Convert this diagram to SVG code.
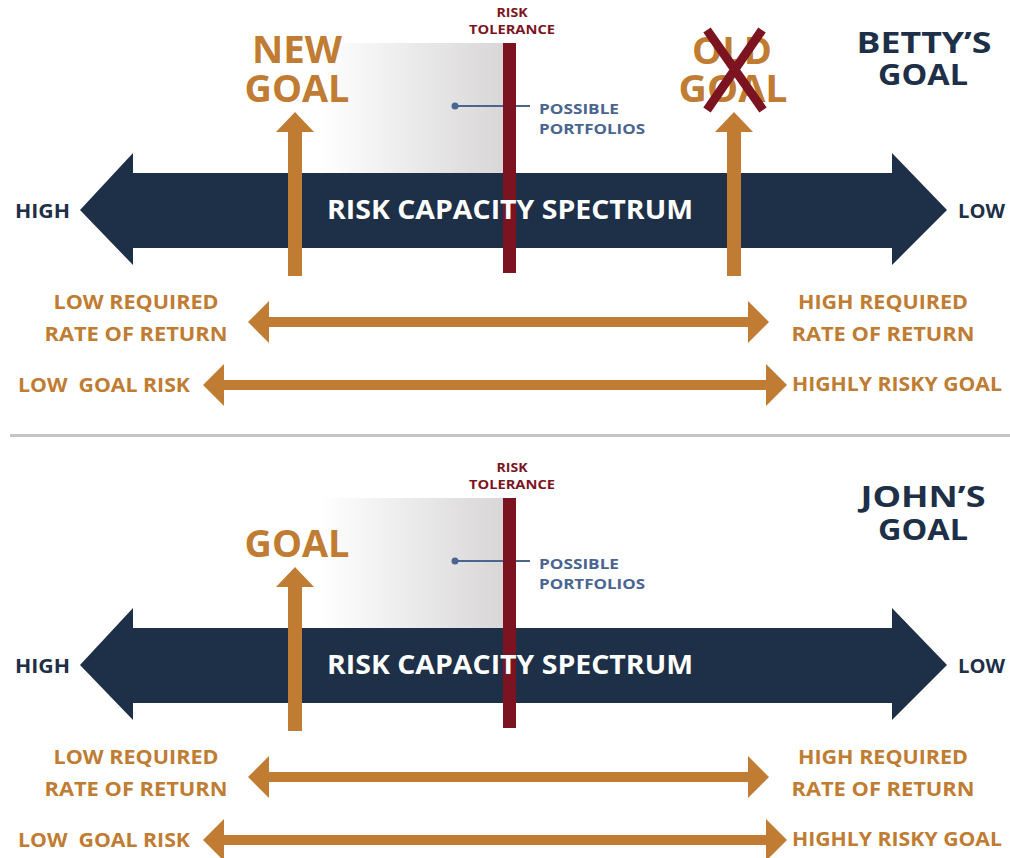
<svg xmlns="http://www.w3.org/2000/svg" xmlns:xlink="http://www.w3.org/1999/xlink" width="1010" height="858" viewBox="0 0 1010 858">
  <style>
    text { font-family: "Open Sans", "Liberation Sans", sans-serif; font-weight: 700; }
    .navy { fill: #1e2f48; }
    .orange { fill: #c07c32; }
    .red { fill: #7b1420; }
    .slate { fill: #4a6590; }
    .white { fill: #ffffff; }
    .big { font-size: 38px; }
    .who { font-size: 29px; }
    .side { font-size: 19px; }
    .label { font-size: 20px; }
    .tol { font-size: 12px; }
    .pp { font-size: 15px; }
    .spec { font-size: 26px; }
    .pre { white-space: pre; }
  </style>
  <defs>
    <linearGradient id="portfolioFade" x1="0" y1="0" x2="1" y2="0">
      <stop offset="0" stop-color="#ffffff"/>
      <stop offset="0.1" stop-color="#ffffff"/>
      <stop offset="1" stop-color="#d8d6d6"/>
    </linearGradient>
    <!-- double-headed navy spectrum arrow, centred on y=210 -->
    <path id="spectrumShape" d="M80,210 L133,153 L133,173 L892,173 L892,153 L947,210 L892,265 L892,248 L133,248 L133,265 Z"/>
    <!-- orange double arrows -->
    <path id="returnArrow" d="M248,322 L269,301 L269,317 L748,317 L748,301 L769,322 L748,343 L748,327 L269,327 L269,343 Z"/>
    <path id="riskArrow" d="M203,385 L224,364 L224,380 L766,380 L766,364 L787,385 L766,406 L766,390 L224,390 L224,406 Z"/>
    <!-- upward goal arrow, tip at (0,112) -->
    <path id="goalArrow" d="M0,112 L19,132 L7,132 L7,276 L-7,276 L-7,132 L-19,132 Z"/>
  </defs>

  <!-- divider between the two panels -->
  <rect x="10" y="434" width="1000" height="3" fill="#c4c4c4"/>

  <!-- ===== Betty ===== -->
  <g id="betty">
    <g id="betty-portfolios">
      <rect x="300" y="43" width="205" height="135" fill="url(#portfolioFade)"/>
      <line x1="455" y1="106" x2="530" y2="106" stroke="#4a6590" stroke-width="2"/>
      <circle cx="455" cy="106" r="3.5" class="slate"/>
      <text class="slate pp" x="539" y="114" textLength="80" lengthAdjust="spacingAndGlyphs">POSSIBLE</text>
      <text class="slate pp" x="539" y="134" textLength="106" lengthAdjust="spacingAndGlyphs">PORTFOLIOS</text>
    </g>
    <g id="betty-spectrum">
      <use xlink:href="#spectrumShape" class="navy"/>
      <text class="navy side" x="15" y="218" textLength="55" lengthAdjust="spacingAndGlyphs">HIGH</text>
      <text class="navy side" x="958" y="218" textLength="47" lengthAdjust="spacingAndGlyphs">LOW</text>
    </g>
    <g id="betty-tolerance">
      <rect x="503" y="43" width="13" height="230" class="red"/>
      <text class="red tol" x="512" y="17" text-anchor="middle" textLength="31" lengthAdjust="spacingAndGlyphs">RISK</text>
      <text class="red tol" x="512" y="34" text-anchor="middle" textLength="86" lengthAdjust="spacingAndGlyphs">TOLERANCE</text>
    </g>
    <text class="white spec" x="510" y="219" text-anchor="middle" textLength="366" lengthAdjust="spacingAndGlyphs">RISK CAPACITY SPECTRUM</text>
    <g id="betty-new-goal">
      <use xlink:href="#goalArrow" x="295" class="orange"/>
      <text class="orange big" x="297" y="63" text-anchor="middle" textLength="90" lengthAdjust="spacingAndGlyphs">NEW</text>
      <text class="orange big" x="297" y="102" text-anchor="middle" textLength="105" lengthAdjust="spacingAndGlyphs">GOAL</text>
    </g>
    <g id="betty-old-goal">
      <use xlink:href="#goalArrow" x="734" class="orange"/>
      <text class="orange big" x="732" y="64" text-anchor="middle" textLength="80" lengthAdjust="spacingAndGlyphs">OLD</text>
      <text class="orange big" x="733" y="102" text-anchor="middle" textLength="109" lengthAdjust="spacingAndGlyphs">GOAL</text>
      <path d="M707,30 L763,110 M762,30 L707,110" stroke="#7b1420" stroke-width="9" fill="none"/>
    </g>
    <g id="betty-title">
      <text class="navy who" x="924" y="53" text-anchor="middle" textLength="135" lengthAdjust="spacingAndGlyphs">BETTY’S</text>
      <text class="navy who" x="923" y="85" text-anchor="middle" textLength="90" lengthAdjust="spacingAndGlyphs">GOAL</text>
    </g>
    <g id="betty-return">
      <use xlink:href="#returnArrow" class="orange"/>
      <text class="orange label" x="136" y="309" text-anchor="middle" textLength="165" lengthAdjust="spacingAndGlyphs">LOW REQUIRED</text>
      <text class="orange label" x="136" y="341" text-anchor="middle" textLength="183" lengthAdjust="spacingAndGlyphs">RATE OF RETURN</text>
      <text class="orange label" x="883" y="309" text-anchor="middle" textLength="170" lengthAdjust="spacingAndGlyphs">HIGH REQUIRED</text>
      <text class="orange label" x="883" y="341" text-anchor="middle" textLength="183" lengthAdjust="spacingAndGlyphs">RATE OF RETURN</text>
    </g>
    <g id="betty-risk">
      <use xlink:href="#riskArrow" class="orange"/>
      <text class="orange label pre" x="18" y="392" textLength="172" lengthAdjust="spacingAndGlyphs">LOW  GOAL RISK</text>
      <text class="orange label" x="792" y="391" textLength="210" lengthAdjust="spacingAndGlyphs">HIGHLY RISKY GOAL</text>
    </g>
  </g>

  <!-- ===== John ===== -->
  <g id="john" transform="translate(0,455)">
    <g id="john-portfolios">
      <rect x="300" y="43" width="205" height="135" fill="url(#portfolioFade)"/>
      <line x1="455" y1="106" x2="530" y2="106" stroke="#4a6590" stroke-width="2"/>
      <circle cx="455" cy="106" r="3.5" class="slate"/>
      <text class="slate pp" x="539" y="114" textLength="80" lengthAdjust="spacingAndGlyphs">POSSIBLE</text>
      <text class="slate pp" x="539" y="134" textLength="106" lengthAdjust="spacingAndGlyphs">PORTFOLIOS</text>
    </g>
    <g id="john-spectrum">
      <use xlink:href="#spectrumShape" class="navy"/>
      <text class="navy side" x="15" y="218" textLength="55" lengthAdjust="spacingAndGlyphs">HIGH</text>
      <text class="navy side" x="958" y="218" textLength="47" lengthAdjust="spacingAndGlyphs">LOW</text>
    </g>
    <g id="john-tolerance">
      <rect x="503" y="43" width="13" height="230" class="red"/>
      <text class="red tol" x="512" y="17" text-anchor="middle" textLength="31" lengthAdjust="spacingAndGlyphs">RISK</text>
      <text class="red tol" x="512" y="34" text-anchor="middle" textLength="86" lengthAdjust="spacingAndGlyphs">TOLERANCE</text>
    </g>
    <text class="white spec" x="510" y="219" text-anchor="middle" textLength="366" lengthAdjust="spacingAndGlyphs">RISK CAPACITY SPECTRUM</text>
    <g id="john-goal">
      <use xlink:href="#goalArrow" x="295" class="orange"/>
      <text class="orange big" x="297" y="102" text-anchor="middle" textLength="105" lengthAdjust="spacingAndGlyphs">GOAL</text>
    </g>
    <g id="john-title">
      <text class="navy who" x="923" y="52" text-anchor="middle" textLength="125" lengthAdjust="spacingAndGlyphs">JOHN’S</text>
      <text class="navy who" x="923" y="85" text-anchor="middle" textLength="90" lengthAdjust="spacingAndGlyphs">GOAL</text>
    </g>
    <g id="john-return">
      <use xlink:href="#returnArrow" class="orange"/>
      <text class="orange label" x="136" y="309" text-anchor="middle" textLength="165" lengthAdjust="spacingAndGlyphs">LOW REQUIRED</text>
      <text class="orange label" x="136" y="341" text-anchor="middle" textLength="183" lengthAdjust="spacingAndGlyphs">RATE OF RETURN</text>
      <text class="orange label" x="883" y="309" text-anchor="middle" textLength="170" lengthAdjust="spacingAndGlyphs">HIGH REQUIRED</text>
      <text class="orange label" x="883" y="341" text-anchor="middle" textLength="183" lengthAdjust="spacingAndGlyphs">RATE OF RETURN</text>
    </g>
    <g id="john-risk">
      <use xlink:href="#riskArrow" class="orange"/>
      <text class="orange label pre" x="18" y="392" textLength="172" lengthAdjust="spacingAndGlyphs">LOW  GOAL RISK</text>
      <text class="orange label" x="792" y="391" textLength="210" lengthAdjust="spacingAndGlyphs">HIGHLY RISKY GOAL</text>
    </g>
  </g>
</svg>
